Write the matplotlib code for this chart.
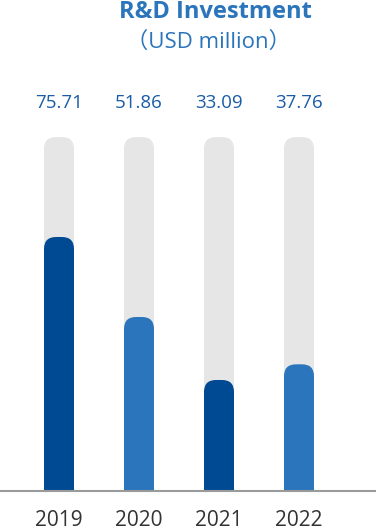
import matplotlib.pyplot as plt
from matplotlib.patches import FancyBboxPatch

# Data
years = ['2019', '2020', '2021', '2022']
values = [75.71, 51.86, 33.09, 37.76]
track_max = 105.5
bar_colors = ['#004a94', '#2a75bb', '#004a94', '#2a75bb']

plt.rcParams['font.family'] = ['Open Sans', 'Noto Sans CJK SC', 'DejaVu Sans']

W, H = 376, 529
fig = plt.figure(figsize=(W / 100, H / 100), dpi=100)
base_px = 491
ax = fig.add_axes([0, (H - base_px) / H, 1, base_px / H])
ax.set_xlim(-59 / 80, (W - 59) / 80)
ax.set_ylim(0, base_px / 3.355)
ax.axis('off')

x = list(range(len(years)))
width = 0.375

# Get pixel scale for rounded corners
fig.canvas.draw()
p0 = ax.transData.transform((0, 0))
p1 = ax.transData.transform((1, 1))
px_x = p1[0] - p0[0]
px_y = p1[1] - p0[1]
r_px = 12
aspect = px_x / px_y


def rounded_bar(xc, h, color, z):
    patch = FancyBboxPatch((xc - width / 2, -20), width, h + 20,
                           boxstyle='round,pad=0,rounding_size=%f' % (r_px / px_x),
                           mutation_aspect=aspect, fc=color, ec='none', zorder=z)
    ax.add_patch(patch)


for xi in x:
    rounded_bar(xi, track_max, '#e6e6e6', 1)
for xi, v, c in zip(x, values, bar_colors):
    rounded_bar(xi, v, c, 2)

ax.axhline(0, color='#9a9a9a', lw=1.5, zorder=3, clip_on=False)

# Value labels
for xi, v in zip(x, values):
    fig.text((59 + 80 * xi) / W, 1 - 103 / H, '%.2f' % v, ha='center', va='center',
             fontsize=13.5, color='#1a5ca6')

# Year labels
for xi, yr in zip(x, years):
    fig.text((59 + 80 * xi) / W, 1 - 520 / H, yr, ha='center', va='center',
             fontsize=15, color='#333333')

fig.text(215 / W, 1 - 12 / H, 'R&D Investment', ha='center', va='center',
         fontsize=17, fontweight='bold', color='#2a75bb')
fig.text(208 / W, 1 - 42 / H, '（USD million）', ha='center', va='center',
         fontsize=16, color='#2a75bb')

fig.savefig('out.png', dpi=100)
